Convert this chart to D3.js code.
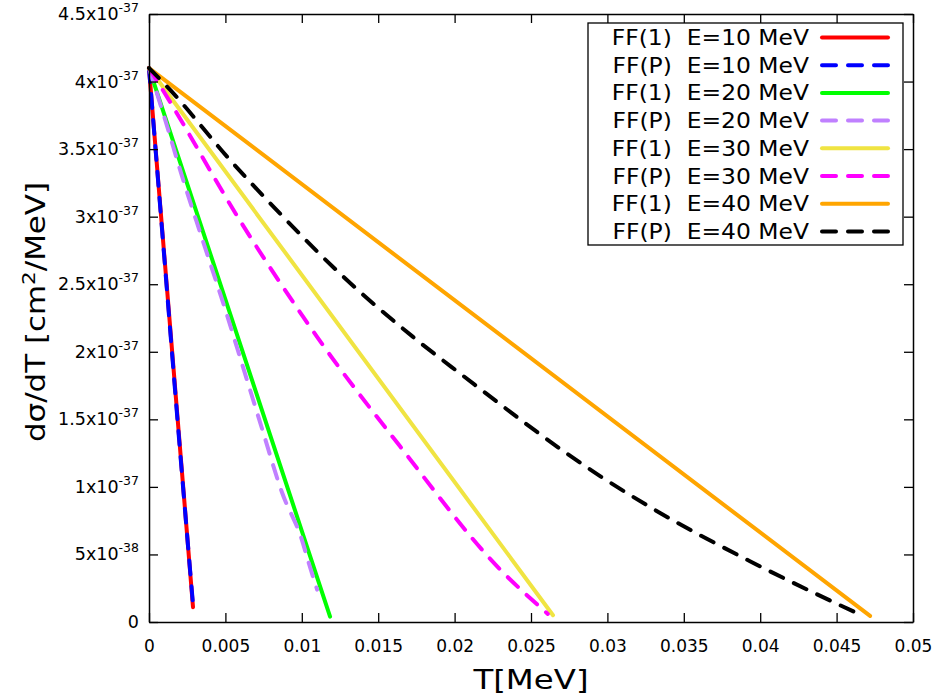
<!DOCTYPE html>
<html>
<head>
<meta charset="utf-8">
<script src="https://cdn.jsdelivr.net/npm/d3@7"></script>
<style>
body { margin: 0; background: #fff; }
svg { display: block; font-family: "DejaVu Sans", sans-serif; }
</style>
</head>
<body>
<svg id="chart"></svg>
<script>
// values, y in units of 1e-37 cm^2/MeV
const ff1E10T = [0, 0.00288];
const ff1E10Y = [4.1, 0.11];
const ffpE10T = [0, 0.0010, 0.0020, 0.00288];
const ffpE10Y = [4.1, 2.70, 1.31, 0.13];
const ff1E20T = [0, 0.01185];
const ff1E20Y = [4.1, 0.04];
const ffpE20T = [0, 0.00105, 0.00216, 0.00347, 0.00497, 0.00628, 0.0074, 0.0087, 0.0100, 0.0105, 0.0110];
const ffpE20Y = [4.1, 3.72, 3.30, 2.84, 2.32, 1.84, 1.43, 0.96, 0.61, 0.42, 0.24];
const ff1E30T = [0, 0.02644];
const ff1E30Y = [4.1, 0.05];
const ffpE30T = [0, 0.00105, 0.00596, 0.01008, 0.0110, 0.01643, 0.02297, 0.0261];
const ffpE30Y = [4.1, 3.91, 2.97, 2.26, 2.11, 1.30, 0.39, 0.06];
const ff1E40T = [0, 0.04719];
const ff1E40Y = [4.1, 0.045];
const ffpE40T = [0, 0.00137, 0.0053, 0.00877, 0.0123, 0.01728, 0.02035, 0.02952, 0.0328, 0.03933, 0.04372, 0.04673];
const ffpE40Y = [4.1, 3.94, 3.42, 3.00, 2.60, 2.11, 1.84, 1.08, 0.85, 0.45, 0.205, 0.045];

const legendLabels = ['FF(1)  E=10 MeV', 'FF(P)  E=10 MeV', 'FF(1)  E=20 MeV', 'FF(P)  E=20 MeV',
    'FF(1)  E=30 MeV', 'FF(P)  E=30 MeV', 'FF(1)  E=40 MeV', 'FF(P)  E=40 MeV'];
const colors = ['#ff0000', '#0000ff', '#00ff00', '#c080ff', '#f0e442', '#ff00ff', '#ffa500', '#000000'];
const dashed = [false, true, false, true, false, true, false, true];

const xTicks = [0, 0.005, 0.01, 0.015, 0.02, 0.025, 0.03, 0.035, 0.04, 0.045, 0.05];
const xTickLabels = ['0', '0.005', '0.01', '0.015', '0.02', '0.025', '0.03', '0.035', '0.04', '0.045', '0.05'];
const yTicks = [0, 0.5, 1, 1.5, 2, 2.5, 3, 3.5, 4, 4.5];
const yTickBase = ['0', '5x10', '1x10', '1.5x10', '2x10', '2.5x10', '3x10', '3.5x10', '4x10', '4.5x10'];
const yTickExp = ['', '-38', '-37', '-37', '-37', '-37', '-37', '-37', '-37', '-37'];

const seriesT = [ff1E10T, ffpE10T, ff1E20T, ffpE20T, ff1E30T, ffpE30T, ff1E40T, ffpE40T];
const seriesY = [ff1E10Y, ffpE10Y, ff1E20Y, ffpE20Y, ff1E30Y, ffpE30Y, ff1E40Y, ffpE40Y];

const W = 939, H = 698;
const m = { left: 149, right: 26, top: 14, bottom: 76 };
const svg = d3.select('#chart').attr('width', W).attr('height', H);

const x = d3.scaleLinear().domain([0, 0.05]).range([m.left, W - m.right]);
const y = d3.scaleLinear().domain([0, 4.5]).range([H - m.bottom, m.top]);

// lines
const line = d3.line()
    .x(d => x(d[0]))
    .y(d => y(d[1]))
    .curve(d3.curveMonotoneX);

seriesT.forEach((ts, i) => {
    const pts = ts.map((t, k) => [t, seriesY[i][k]]);
    svg.append('path')
        .datum(pts)
        .attr('fill', 'none')
        .attr('stroke', colors[i])
        .attr('stroke-width', 4)
        .attr('stroke-linecap', 'round')
        .attr('stroke-dasharray', dashed[i] ? '14,12' : null)
        .attr('d', line);
});

// axes, ticks pointing inward and mirrored
const tickLen = 9;
const gBottom = svg.append('g').attr('transform', `translate(0,${y(0)})`)
    .call(d3.axisBottom(x).tickValues(xTicks).tickSizeInner(-tickLen).tickSizeOuter(0)
        .tickFormat((d, i) => xTickLabels[i]).tickPadding(18));
const gTop = svg.append('g').attr('transform', `translate(0,${y(4.5)})`)
    .call(d3.axisTop(x).tickValues(xTicks).tickSizeInner(-tickLen).tickSizeOuter(0).tickFormat(''));
const gLeft = svg.append('g').attr('transform', `translate(${x(0)},0)`)
    .call(d3.axisLeft(y).tickValues(yTicks).tickSizeInner(-tickLen).tickSizeOuter(0).tickFormat(''));
const gRight = svg.append('g').attr('transform', `translate(${x(0.05)},0)`)
    .call(d3.axisRight(y).tickValues(yTicks).tickSizeInner(-tickLen).tickSizeOuter(0).tickFormat(''));

[gBottom, gTop, gLeft, gRight].forEach(g => {
    g.select('.domain').attr('stroke', '#000').attr('stroke-width', 1.5);
    g.selectAll('.tick line').attr('stroke', '#000').attr('stroke-width', 1.3);
});
gBottom.selectAll('.tick text')
    .attr('fill', '#000')
    .style('font-size', '17px')
    .style('font-family', '"DejaVu Sans", sans-serif');

// y tick labels with superscript exponents
const yl = svg.append('g');
yTicks.forEach((v, i) => {
    const t = yl.append('text')
        .attr('x', x(0) - 10)
        .attr('y', y(v) + 6)
        .attr('text-anchor', 'end')
        .style('font-size', '17.5px');
    t.append('tspan').text(yTickBase[i]);
    if (yTickExp[i]) {
        t.append('tspan').attr('dy', -8).style('font-size', '12.5px').text(yTickExp[i]);
    }
});

// axis titles (the original face is wider than DejaVu, so stretch along the text)
svg.append('text')
    .attr('transform', `translate(${(x(0) + x(0.05)) / 2},689) scale(1.2,1)`)
    .attr('text-anchor', 'middle')
    .style('font-size', '27px')
    .text('T[MeV]');

const yt = svg.append('text')
    .attr('transform', `translate(45,${(y(0) + y(4.5)) / 2 - 6}) rotate(-90) scale(1.19,1)`)
    .attr('text-anchor', 'middle')
    .style('font-size', '26px');
yt.append('tspan').text('dσ/dT [cm');
yt.append('tspan').attr('dy', -10).style('font-size', '18px').text('2');
yt.append('tspan').attr('dy', 10).text('/MeV]');

// legend
const lg = svg.append('g');
lg.append('rect')
    .attr('x', 588).attr('y', 23).attr('width', 315).attr('height', 222)
    .attr('fill', '#fff').attr('stroke', '#000').attr('stroke-width', 1.3);
legendLabels.forEach((lab, i) => {
    const cy = 37.5 + i * 27.7;
    lg.append('text')
        .attr('transform', `translate(809,${cy + 7.5}) scale(1.09,1)`)
        .attr('text-anchor', 'end')
        .attr('xml:space', 'preserve')
        .style('white-space', 'pre')
        .style('font-size', '21.5px')
        .text(lab);
    lg.append('line')
        .attr('x1', 822).attr('x2', 888).attr('y1', cy).attr('y2', cy)
        .attr('stroke', colors[i]).attr('stroke-width', 4)
        .attr('stroke-linecap', 'round')
        .attr('stroke-dasharray', dashed[i] ? '14,12' : null);
});
</script>
</body>
</html>
